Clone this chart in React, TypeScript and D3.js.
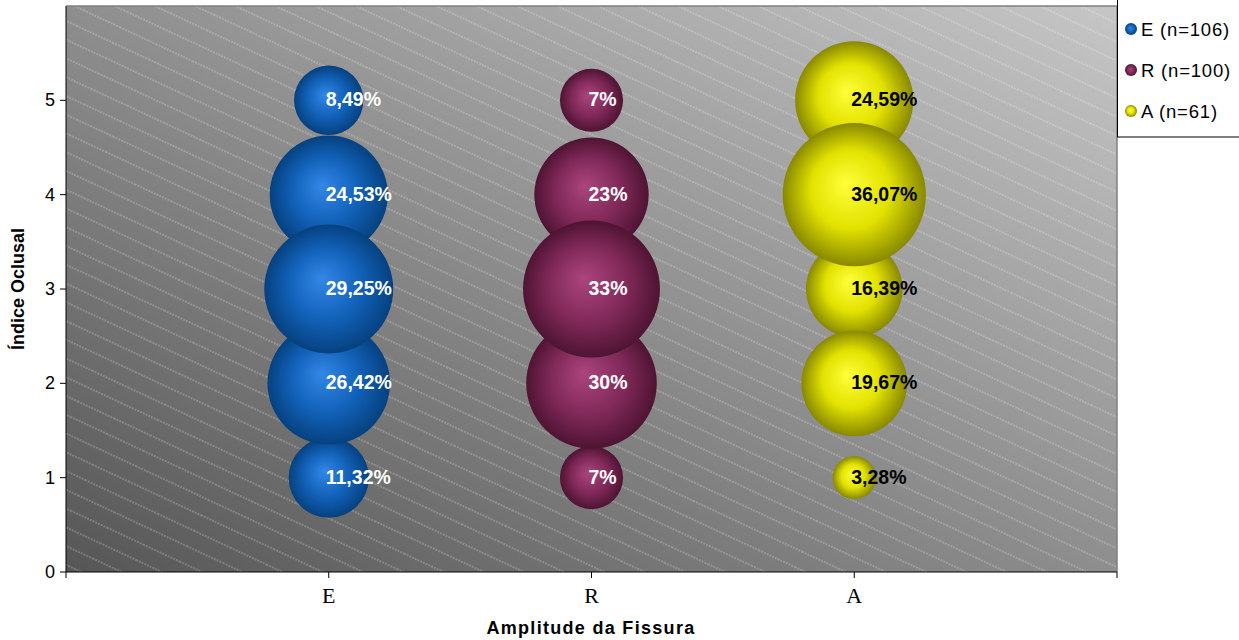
import React from "react";
import * as d3 from "d3";

const categories = ["E", "R", "A"];
const yLevels = [1, 2, 3, 4, 5];
const yTicks = [0, 1, 2, 3, 4, 5];
const seriesNames = ["E (n=106)", "R (n=100)", "A (n=61)"];
const valuesE = [11.32, 26.42, 29.25, 24.53, 8.49];
const valuesR = [7, 30, 33, 23, 7];
const valuesA = [3.28, 19.67, 16.39, 36.07, 24.59];
const decimals = [2, 0, 2];

const W = 1239, H = 640;
const M = { left: 66, right: 1117, top: 6, bottom: 572 };

const gradients = [
  { id: "gE", stops: ["#3387e6", "#1262ba", "#06417f"], label: "#ffffff" },
  { id: "gR", stops: ["#ab457d", "#822a5a", "#4f1433"], label: "#ffffff" },
  { id: "gA", stops: ["#ffff3a", "#e2e200", "#888800"], label: "#000000" },
];

export default function App() {
  const x = d3.scaleLinear().domain([0, 4]).range([M.left, M.right]);
  const y = d3.scaleLinear().domain([0, 6]).range([M.bottom, M.top]);
  const allVals = [valuesE, valuesR, valuesA];
  const maxV = d3.max(allVals.flat()) as number;
  const r = d3.scaleSqrt().domain([0, maxV]).range([0, (M.bottom - M.top) * 0.1265]);

  const points: any[] = [];
  allVals.forEach((vals, si) => {
    vals.forEach((v, i) => {
      points.push({ si, cx: x(si + 1), cy: y(yLevels[i]), v, rr: r(v) });
    });
  });
  const drawOrder = [...points].sort((a, b) => a.v - b.v);
  const fmt = (v: number, d: number) => v.toFixed(d).replace(".", ",") + "%";

  return (
    <svg width={W} height={H} style={{ position: "absolute", left: 0, top: 0, background: "#fff" }}
      fontFamily="'Liberation Sans', Arial, sans-serif">
      <defs>
        <linearGradient id="bg" x1="0" y1="1" x2="1" y2="0">
          <stop offset="0%" stopColor="#565656" />
          <stop offset="100%" stopColor="#c6c6c6" />
        </linearGradient>
        <pattern id="hatch" width="40" height="17" patternUnits="userSpaceOnUse" patternTransform="rotate(25)">
          <line x1="0" y1="8" x2="40" y2="8" stroke="#ffffff" strokeOpacity="0.4" strokeWidth="1" strokeDasharray="2,1" />
        </pattern>
        {gradients.map((g) => (
          <radialGradient key={g.id} id={g.id} cx="0.5" cy="0.5" r="0.5" fx="0.44" fy="0.42">
            <stop offset="0%" stopColor={g.stops[0]} />
            <stop offset="55%" stopColor={g.stops[1]} />
            <stop offset="100%" stopColor={g.stops[2]} />
          </radialGradient>
        ))}
      </defs>

      <rect x={M.left} y={M.top} width={M.right - M.left} height={M.bottom - M.top} fill="url(#bg)" />
      <rect x={M.left} y={M.top} width={M.right - M.left} height={M.bottom - M.top} fill="url(#hatch)" />
      <path d={`M${M.left},${M.top}H${M.right}V${M.bottom}`} fill="none" stroke="#808080" strokeWidth={1.5} />

      <g>
        {drawOrder.map((p, i) => (
          <circle key={i} cx={p.cx} cy={p.cy} r={p.rr} fill={`url(#${gradients[p.si].id})`} />
        ))}
      </g>
      <g fontWeight="bold" fontSize={19.5}>
        {points.map((p, i) => (
          <text key={i} x={p.cx - 3} y={p.cy - 1} dominantBaseline="central" fill={gradients[p.si].label}>
            {fmt(p.v, decimals[p.si])}
          </text>
        ))}
      </g>

      <line x1={M.left} y1={M.top} x2={M.left} y2={M.bottom} stroke="#000" />
      <line x1={M.left} y1={M.bottom} x2={M.right} y2={M.bottom} stroke="#000" />
      {yTicks.map((t) => (
        <g key={t}>
          <line x1={M.left - 6} x2={M.left} y1={y(t)} y2={y(t)} stroke="#000" />
          <text x={M.left - 11} y={y(t)} dominantBaseline="central" textAnchor="end" fontSize={18}>{t}</text>
        </g>
      ))}
      {[0, 1, 2, 3, 4].map((t) => (
        <line key={t} x1={x(t)} x2={x(t)} y1={M.bottom} y2={M.bottom + 6} stroke="#000" />
      ))}
      {categories.map((c, i) => (
        <text key={c} x={x(i + 1)} y={595} textAnchor="middle" dominantBaseline="central"
          fontFamily="'Liberation Serif', 'Times New Roman', serif" fontSize={22}>{c}</text>
      ))}
      <text x={591} y={628} textAnchor="middle" dominantBaseline="central" fontWeight="bold" fontSize={18} letterSpacing={1.3}>
        Amplitude da Fissura
      </text>
      <text transform={`translate(18,${(M.top + M.bottom) / 2}) rotate(-90)`} textAnchor="middle"
        dominantBaseline="central" fontWeight="bold" fontSize={18}>Índice Oclusal</text>

      <rect x={1117.5} y={-1} width={130} height={138} fill="#fff" stroke="#000" />
      {seriesNames.map((s, i) => (
        <g key={s}>
          <circle cx={1131} cy={29 + i * 41} r={6} fill={`url(#${gradients[i].id})`} />
          <text x={1141} y={29 + i * 41} dominantBaseline="central" fontSize={18.5} letterSpacing={0.8}>{s}</text>
        </g>
      ))}
    </svg>
  );
}
